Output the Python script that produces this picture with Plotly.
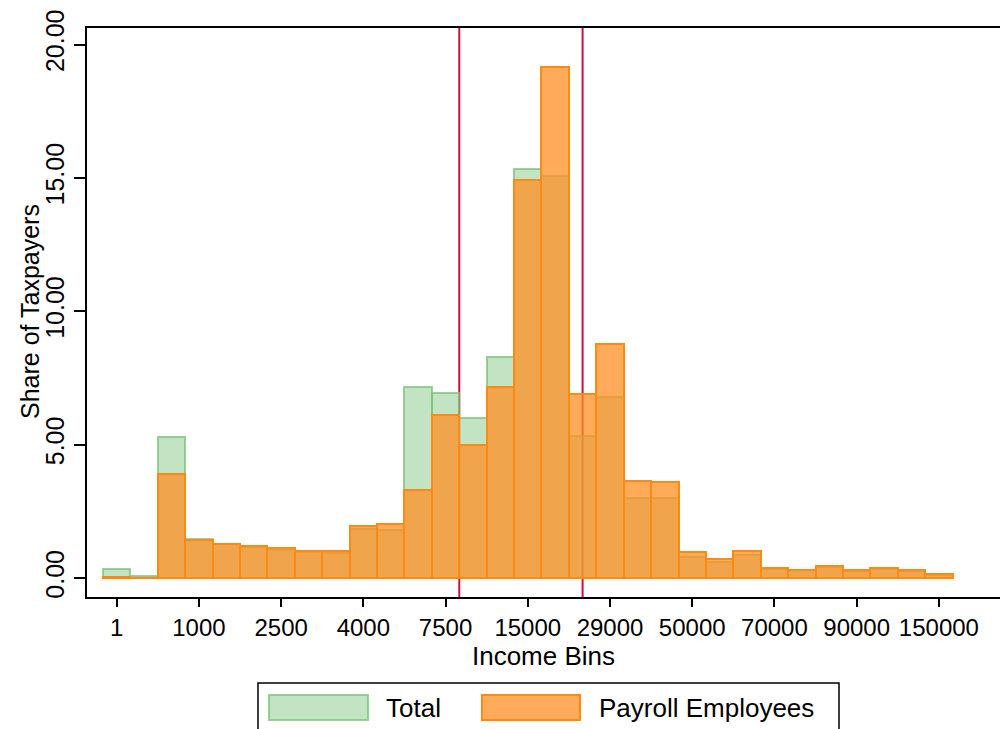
import plotly.graph_objects as go

# ---- data ----
bin_pos = list(range(1, 32))
total = [0.34, 0.09, 5.30, 1.45, 1.27, 1.18, 1.06, 0.96, 0.93, 1.84, 1.80,
         7.18, 6.92, 6.00, 8.30, 15.35, 15.06, 5.33, 6.80, 2.99, 2.99,
         0.80, 0.59, 0.85, 0.34, 0.29, 0.40, 0.25, 0.33, 0.25, 0.13]
payroll = [0.03, 0.02, 3.90, 1.41, 1.29, 1.21, 1.14, 1.02, 1.01, 1.96, 2.04,
           3.31, 6.12, 4.97, 7.15, 14.93, 19.14, 6.90, 8.79, 3.64, 3.61,
           0.99, 0.73, 1.02, 0.39, 0.31, 0.46, 0.29, 0.36, 0.29, 0.16]
tick_pos = [1, 4, 7, 10, 13, 16, 19, 22, 25, 28, 31]
tick_labels = ["1", "1000", "2500", "4000", "7500", "15000", "29000",
               "50000", "70000", "90000", "150000"]
y_ticks = [0, 5, 10, 15, 20]
vlines = [13.5, 18]

# ---- layout geometry (pixels) ----
W, H = 1000, 729
ML, MR, MT, MB = 87, 0, 28, 132
PW, PH = W - ML - MR, H - MT - MB


def px2x(px):
    return (px - ML) / PW


def px2y(py):
    return (H - MB - py) / PH


FONT = "Liberation Sans, Arial, Helvetica, sans-serif"
GREEN_FILL = "rgba(146,206,146,0.55)"
GREEN_LINE = "rgba(120,195,120,0.75)"
ORANGE_FILL = "rgba(255,143,35,0.75)"
ORANGE_LINE = "rgb(255,138,18)"
RED = "rgb(200,18,58)"

fig = go.Figure()
fig.add_trace(go.Bar(x=bin_pos, y=total, width=1, name="Total",
                     marker=dict(color=GREEN_FILL,
                                 line=dict(color=GREEN_LINE, width=2))))
fig.add_trace(go.Bar(x=bin_pos, y=payroll, width=1, name="Payroll Employees",
                     marker=dict(color=ORANGE_FILL,
                                 line=dict(color=ORANGE_LINE, width=2))))

shapes = []
for v in vlines:
    shapes.append(dict(type="line", xref="x", yref="paper", x0=v, x1=v,
                       y0=0, y1=1, line=dict(color=RED, width=2),
                       layer="below"))

# manual legend (big swatches like the original)
shapes.append(dict(type="rect", xref="paper", yref="paper",
                   x0=px2x(258), x1=px2x(839), y0=px2y(745), y1=px2y(683),
                   line=dict(color="black", width=1.5), fillcolor="white"))
shapes.append(dict(type="rect", xref="paper", yref="paper",
                   x0=px2x(269), x1=px2x(368), y0=px2y(720), y1=px2y(695),
                   line=dict(color=GREEN_LINE, width=2), fillcolor=GREEN_FILL))
shapes.append(dict(type="rect", xref="paper", yref="paper",
                   x0=px2x(482), x1=px2x(580), y0=px2y(720), y1=px2y(695),
                   line=dict(color=ORANGE_LINE, width=2),
                   fillcolor="rgba(255,150,50,0.8)"))
annotations = [
    dict(text="Total", xref="paper", yref="paper", x=px2x(384), y=px2y(708),
         xanchor="left", yanchor="middle", showarrow=False,
         font=dict(family=FONT, size=26, color="black")),
    dict(text="Payroll Employees", xref="paper", yref="paper", x=px2x(597),
         y=px2y(708), xanchor="left", yanchor="middle", showarrow=False,
         font=dict(family=FONT, size=26, color="black")),
    dict(text="Share of Taxpayers", xref="paper", yref="paper", x=px2x(30),
         y=px2y(312), xanchor="center", yanchor="middle", showarrow=False,
         textangle=-90, font=dict(family=FONT, size=25, color="black")),
]

fig.update_layout(
    width=W, height=H,
    margin=dict(l=ML, r=MR, t=MT, b=MB, autoexpand=False),
    paper_bgcolor="white", plot_bgcolor="white",
    barmode="overlay", bargap=0, showlegend=False,
    font=dict(family=FONT, color="black"),
    shapes=shapes, annotations=annotations,
    xaxis=dict(range=[-0.083, 33.23], tickmode="array", tickvals=tick_pos,
               ticktext=tick_labels, ticks="outside", ticklen=8, tickwidth=1.5,
               tickcolor="black", showline=True, linecolor="black", linewidth=2,
               mirror=True, showgrid=False, zeroline=False,
               tickfont=dict(size=24, family=FONT),
               title=dict(text="Income Bins", font=dict(size=26, family=FONT),
                          standoff=0)),
    yaxis=dict(range=[-0.71, 20.62], tickmode="array", tickvals=y_ticks,
               ticktext=[f"{v:.2f}" for v in y_ticks], ticks="outside",
               ticklen=11, tickwidth=1.5, tickcolor="black", tickangle=-90,
               showline=True, linecolor="black", linewidth=2, showgrid=False,
               zeroline=False, tickfont=dict(size=25, family=FONT)),
)

fig.write_html("out.html",
               config={"displayModeBar": False},
               post_script="document.body.style.margin='0';"
                           "document.body.style.overflow='hidden';")
